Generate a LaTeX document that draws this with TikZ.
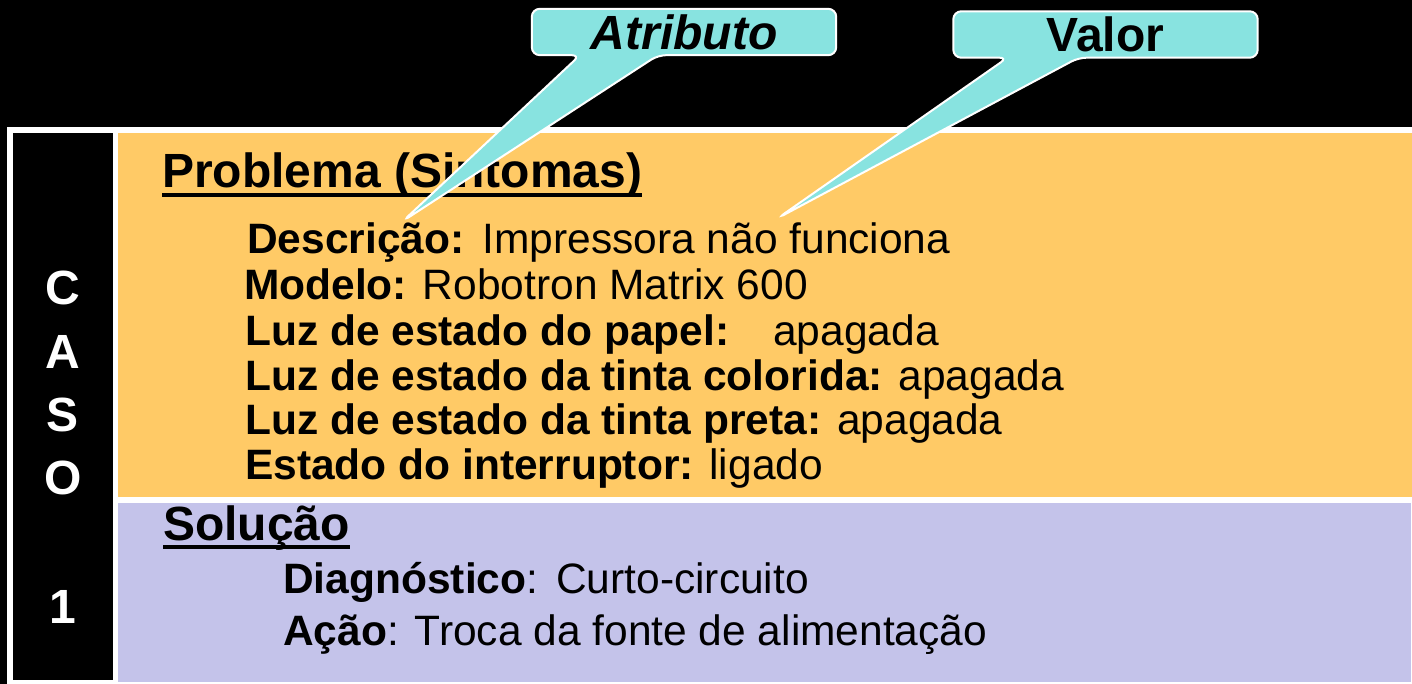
\documentclass[tikz,border=0pt]{standalone}
\usepackage{fontspec}
\setmainfont{Liberation Sans}
\definecolor{laranja}{RGB}{255,202,102}
\definecolor{lilas}{RGB}{196,195,234}
\definecolor{ciano}{RGB}{136,227,224}
% sublinhado fixo, como no slide
\newcommand\sublinha[1]{\setbox0\hbox{#1}\rlap{\rule[-9pt]{\wd0}{4pt}}\box0}

\begin{document}
\begin{tikzpicture}[x=1pt,y=-1pt,
                    caixa/.style={minimum width=304pt,minimum height=46pt,inner sep=0pt},
                    balao/.style={fill=ciano,draw=white,line width=2pt,rounded corners=8pt},
                    rotulo/.style={inner sep=0pt,font=\bfseries\fontsize{48}{50}\selectfont},
                    titulo/.style={anchor=base west,inner sep=0pt,font=\bfseries\fontsize{48}{50}\selectfont},
                    linha/.style={anchor=base west,inner sep=0pt,font=\fontsize{42.5}{45}\selectfont},
                    caso/.style={anchor=base,inner sep=0pt,text=white,font=\bfseries\fontsize{48}{50}\selectfont}
]
\useasboundingbox (0,0) rectangle (1412,684);
\fill[black] (0,0) rectangle (1412,684);
% paineis
\fill[white] (7,127) rectangle (1412,684);
\fill[black] (13,133) rectangle (113,680);
\fill[laranja] (118,133) rectangle (1412,497);
\fill[lilas] (118,503) rectangle (1411,682);

\foreach \l/\y in {C/305,A/368,S/431,O/494,1/623}
  \node[caso] (caso\l) at (63,\y) {\l};

\node[titulo] (prob) at (162,188) {\sublinha{Problema (Sintomas)}};
\node[linha] (desc) at (247,254) {\textbf{Descrição:}\hspace{18pt}Impressora não funciona};
\node[linha] (modelo) at (244,299) {\textbf{Modelo:} Robotron Matrix 600};
\node[linha] (papel) at (245,345) {\textbf{Luz de estado do papel:}\hspace{44pt}apagada};
\node[linha] (colorida) at (245,390) {\textbf{Luz de estado da tinta colorida:} apagada};
\node[linha] (preta) at (245,434) {\textbf{Luz de estado da tinta preta:} apagada};
\node[linha] (interruptor) at (245,479) {\textbf{Estado do interruptor:} ligado};

\node[titulo] (sol) at (163,540) {\sublinha{Solução}};
\node[linha] (diag) at (283,593) {\textbf{Diagnóstico}:\hspace{18pt}Curto-circuito};
\node[linha] (acao) at (283,645) {\textbf{Ação}: Troca da fonte de alimentação};

% baloes
\node[caixa] (atrbox) at (684,32) {};
\node[caixa] (valbox) at (1105.5,34.5) {};
\coordinate (ptatr) at (403,221);
\coordinate (ptval) at (778,218);
\filldraw[balao] (atrbox.north west) -- (atrbox.north east) -- (atrbox.south east)
  -- ([xshift=-26pt]atrbox.south) -- (ptatr) -- ([xshift=-104pt]atrbox.south)
  -- (atrbox.south west) -- cycle;
\filldraw[balao] (valbox.north west) -- (valbox.north east) -- (valbox.south east)
  -- ([xshift=-27pt]valbox.south) -- (ptval) -- ([xshift=-98pt]valbox.south)
  -- (valbox.south west) -- cycle;
\node[rotulo] (atr) at (atrbox.center) {\textit{Atributo}};
\node[rotulo] (val) at (valbox.center) {Valor};
\end{tikzpicture}
\end{document}
